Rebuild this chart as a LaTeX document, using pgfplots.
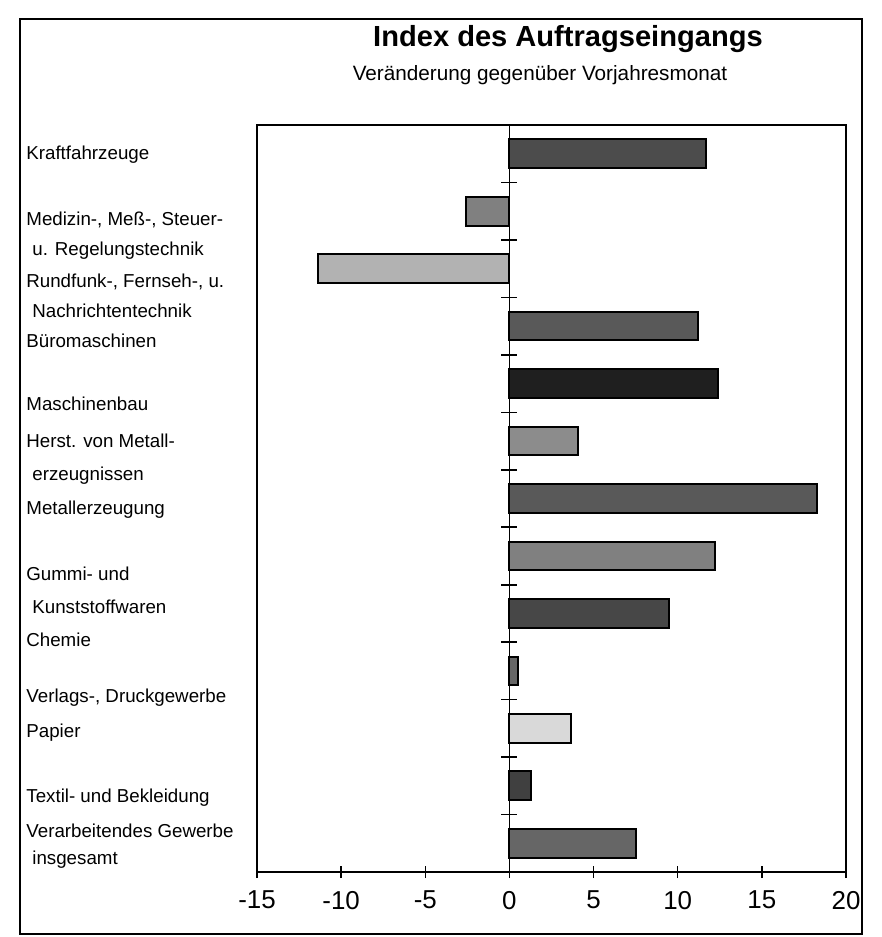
\documentclass[border=0pt]{standalone}
\usepackage{fontspec}
\setmainfont{Liberation Sans}
\usepackage{pgfplots}
\pgfplotsset{compat=1.18}
\begin{document}
\begin{tikzpicture}
\begin{scope}[x=0.5bp,y=-0.5bp]
\useasboundingbox (0,0) rectangle (882,937);
\draw[line width=1bp] (20,19) rectangle (862,934);
\node[font=\bfseries\fontsize{14.6}{16}\selectfont] at (568,39) {Index des Auftragseingangs};
\node[font=\fontsize{10.4}{12}\selectfont] at (540,75) {Veränderung gegenüber Vorjahresmonat};
\foreach \t/\xx/\yy in {
  Kraftfahrzeuge/26/152,
  {Medizin-, Meß-, Steuer-}/26/218,
  {u. Regelungstechnik}/32/248,
  {Rundfunk-, Fernseh-, u.}/26/280,
  {Nachrichtentechnik}/32/310,
  {Büromaschinen}/26/340,
  {Maschinenbau}/26/403,
  {Herst. von Metall-}/26/440,
  {erzeugnissen}/32/473,
  {Metallerzeugung}/26/507,
  {Gummi- und}/26/573,
  {Kunststoffwaren}/32/606,
  {Chemie}/26/639,
  {Verlags-, Druckgewerbe}/26/695,
  {Papier}/26/730,
  {Textil- und Bekleidung}/26/795,
  {Verarbeitendes Gewerbe}/26/830,
  {insgesamt}/32/857}
  {\node[anchor=base west, inner sep=0pt, font=\fontsize{9.4}{11}\selectfont] at (\xx,\yy+7) {\t};}
\end{scope}
\begin{axis}[
  at={(128.5bp,-436bp)}, anchor=south west,
  width=294.5bp, height=373.5bp, scale only axis,
  xmin=-15, xmax=20, ymin=-0.5, ymax=12.5,
  xtick={-15,-10,-5,0,5,10,15,20}, ytick=\empty,
  xtick pos=left,
  tick align=center, major tick length=6bp,
  axis line style={line width=1.2bp},
  xtick style={line width=0.7bp, black},
  ticklabel style={font=\fontsize{13}{14}\selectfont},
  xticklabel style={yshift=-3bp},
  /pgf/number format/assume math mode=true,
  clip=false,
]
\draw[line width=0.6bp] (axis cs:0,-0.5) -- (axis cs:0,12.5);
\pgfplotsinvokeforeach{0,...,11}{\draw[line width=0.8bp] ([xshift=-4bp]axis cs:0,#1.5) -- ([xshift=4bp]axis cs:0,#1.5);}
\pgfplotsset{every axis plot/.append style={xbar, bar width=0.5, draw=black, line width=1bp}}
\addplot[fill=black!70] coordinates {(11.7,12)};
\addplot[fill=black!50] coordinates {(-2.6,11)};
\addplot[fill=black!30] coordinates {(-11.4,10)};
\addplot[fill=black!65] coordinates {(11.2,9)};
\addplot[fill=black!88] coordinates {(12.4,8)};
\addplot[fill=black!45] coordinates {(4.1,7)};
\addplot[fill=black!65] coordinates {(18.3,6)};
\addplot[fill=black!50] coordinates {(12.2,5)};
\addplot[fill=black!72] coordinates {(9.5,4)};
\addplot[fill=black!60] coordinates {(0.5,3)};
\addplot[fill=black!15] coordinates {(3.65,2)};
\addplot[fill=black!75] coordinates {(1.3,1)};
\addplot[fill=black!60] coordinates {(7.5,0)};
\end{axis}
\end{tikzpicture}
\end{document}
